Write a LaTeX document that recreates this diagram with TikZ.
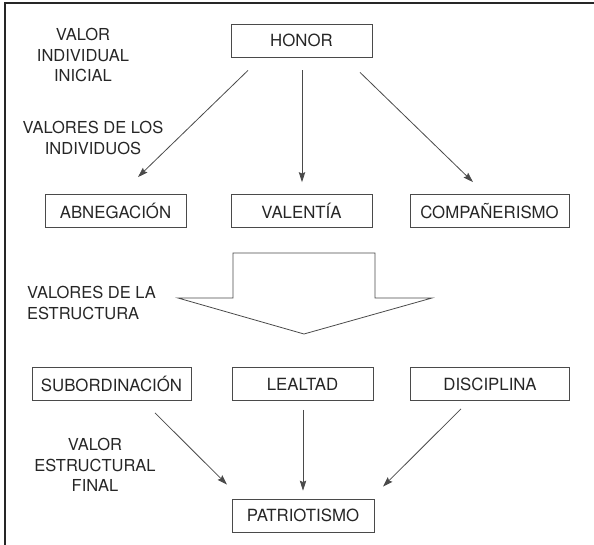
\documentclass[tikz,border=0pt]{standalone}
\usepackage{fontspec}
\setmainfont{TeX Gyre Heros}
\usetikzlibrary{arrows.meta}

\definecolor{inkgray}{HTML}{4A4A4A}
\definecolor{textgray}{HTML}{262626}

\tikzset{
    valbox/.style={draw=inkgray, line width=0.8pt, minimum width=141pt, minimum height=33pt,
        inner sep=0pt, text=textgray, font=\fontsize{16.8}{20.5}\selectfont},
    widebox/.style={valbox, minimum width=159pt},
    lbl/.style={text=textgray, align=center, inner sep=0pt, font=\fontsize{16.5}{20.5}\selectfont},
    link/.style={->, draw=inkgray, line width=0.8pt}
}

\begin{document}
\begin{tikzpicture}[x=1pt, y=1pt, >={Stealth[length=10pt, width=6.5pt, inset=1.5pt]}]

    \useasboundingbox (0,0) rectangle (594,545);

    % --- Frame ---
    \draw[textgray, line width=1.3pt] (5,0) -- (5,542) -- (594,542);

    % --- Value boxes ---
    \node[valbox]  (honor)   at (301.5,504.5) {HONOR};
    \node[valbox]  (abneg)   at (115.5,334)   {ABNEGACIÓN};
    \node[valbox]  (valent)  at (301.5,334)   {VALENTÍA};
    \node[widebox] (compa)   at (489.5,334)   {COMPAÑERISMO};
    \node[widebox] (subord)  at (111.5,161)   {SUBORDINACIÓN};
    \node[valbox]  (lealtad) at (302.5,161)   {LEALTAD};
    \node[widebox] (discip)  at (490,161)     {DISCIPLINA};
    \node[valbox, minimum width=142pt] (patrio) at (303,29.5) {PATRIOTISMO};

    % --- Side labels ---
    \node[lbl] (lblinicial) at (83,490)  {VALOR\\INDIVIDUAL\\INICIAL};
    \node[lbl] (lblindiv)   at (93,407)  {VALORES DE LOS\\INDIVIDUOS};
    \node[lbl, align=left, anchor=west] (lblestruct) at (27,242) {VALORES DE LA\\ESTRUCTURA};
    \node[lbl] (lblfinal)   at (95,80)   {VALOR\\ESTRUCTURAL\\FINAL};

    % --- Big structural arrow ---
    \draw[inkgray, line width=0.8pt, line join=miter]
        (233,247) -- (233,292) -- (375,292) -- (375,247) -- (432,247)
        -- (304,211) -- (178,247) -- cycle;

    % --- Arrows from the initial value ---
    \draw[link] ([xshift=-53.5pt, yshift=-13pt]honor.south) -- ([xshift=22.5pt, yshift=17pt]abneg.north);
    \draw[link] ([xshift=0.5pt, yshift=-13pt]honor.south) -- ([xshift=0.5pt, yshift=12pt]valent.north);
    \draw[link] ([xshift=58.5pt, yshift=-15pt]honor.south) -- ([xshift=-16.5pt, yshift=12pt]compa.north);

    % --- Arrows to the final value ---
    \draw[link] ([xshift=43.5pt, yshift=-12pt]subord.south) -- ([xshift=-76pt, yshift=14pt]patrio.north);
    \draw[link] ([xshift=0.5pt, yshift=-9pt]lealtad.south) -- ([yshift=8pt]patrio.north);
    \draw[link] ([xshift=-29pt, yshift=-8pt]discip.south) -- ([xshift=80pt, yshift=12pt]patrio.north);

\end{tikzpicture}
\end{document}
